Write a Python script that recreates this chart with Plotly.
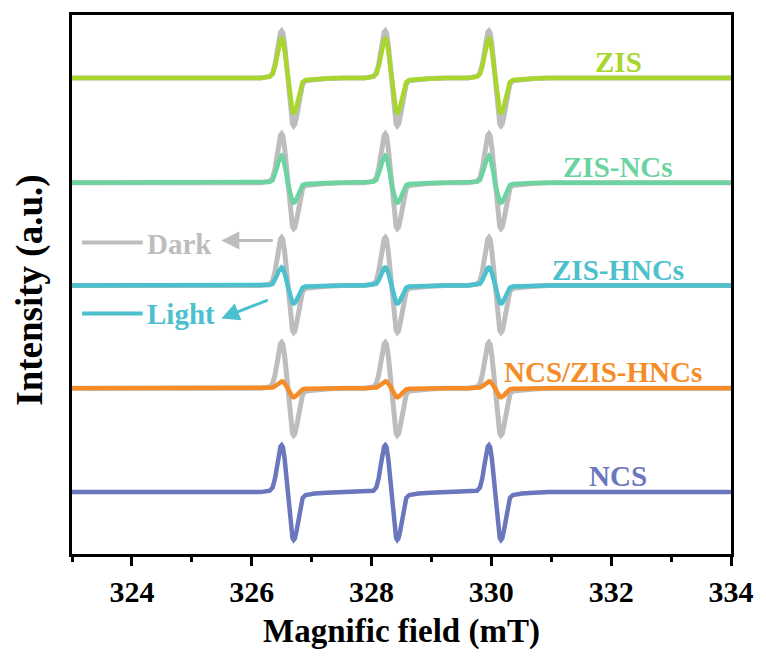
import plotly.graph_objects as go

# ---------------- data ----------------
samples = ["ZIS", "ZIS-NCs", "ZIS-HNCs", "NCS/ZIS-HNCs", "NCS"]
colors = ["#A8D62E", "#6CD3A1", "#4CC0CD", "#F58C28", "#6B77BD"]
baselines = [477, 372, 269, 166, 62]          # vertical offsets (a.u.)
light_pos = [39, 27, 18, 7, 47]               # light-curve positive lobe height
light_neg = [35, 20, 18, 9, 48]               # light-curve negative lobe depth
dark_pos = [47, 49, 48, 46]                   # dark-curve positive lobe height
dark_neg = [48, 46, 47, 47]                   # dark-curve negative lobe depth

line_centers = [326.60, 328.33, 330.06]       # mT, the three hyperfine lines
field_min, field_max = 323, 334

# normalized derivative line profile (offset in mT, value)
prof_off = [-0.45, -0.30, -0.25, -0.21, -0.18, -0.15, -0.12, -0.10, -0.08, -0.05,
            -0.025, 0.0, 0.025, 0.05, 0.08, 0.10, 0.12, 0.15, 0.18, 0.21, 0.25,
            0.30, 0.45, 0.65, 0.90]
prof_val = [0.0, 0.03, 0.10, 0.30, 0.55, 0.80, 0.97, 1.0, 0.96, 0.70,
            0.38, 0.0, -0.38, -0.70, -0.96, -1.0, -0.97, -0.80, -0.55, -0.30, -0.12,
            -0.06, -0.03, -0.015, 0.0]

x_ticks = [324, 326, 328, 330, 332, 334]
x_title = "Magnific field (mT)"
y_title = "Intensity (a.u.)"
gray = "#BDBDBD"
light_color = "#4CC0CD"


def spectrum(base, pos, neg):
    xs, ys = [field_min], [base]
    for c in line_centers:
        for o, v in zip(prof_off, prof_val):
            xs.append(c + o)
            ys.append(base + (v * pos if v >= 0 else v * neg))
    xs.append(field_max)
    ys.append(base)
    return xs, ys


fig = go.Figure()
FONT = "'Liberation Serif', 'Times New Roman', Times, serif"

for i in range(len(dark_pos)):
    xs, ys = spectrum(baselines[i], dark_pos[i], dark_neg[i])
    fig.add_trace(go.Scatter(x=xs, y=ys, mode="lines",
                             line=dict(color=gray, width=5),
                             hoverinfo="skip", showlegend=False))

for i, name in enumerate(samples):
    xs, ys = spectrum(baselines[i], light_pos[i], light_neg[i])
    fig.add_trace(go.Scatter(x=xs, y=ys, mode="lines", name=name,
                             line=dict(color=colors[i], width=4.5),
                             showlegend=False))
    fig.add_annotation(x=332.12 if name != "NCS/ZIS-HNCs" else 331.87,
                       y=baselines[i] + 16, text="<b>" + name + "</b>", showarrow=False,
                       xanchor="center", yanchor="middle",
                       font=dict(family=FONT, size=29, color=colors[i]))

# Dark / Light legend
def px_x(p):
    return (p - 72) / 662


def px_y(p):
    return (554 - p) / 540


fig.add_shape(type="line", xref="paper", yref="paper",
              x0=px_x(82), x1=px_x(143), y0=px_y(242), y1=px_y(242),
              line=dict(color=gray, width=4))
fig.add_shape(type="line", xref="paper", yref="paper",
              x0=px_x(82), x1=px_x(143), y0=px_y(313), y1=px_y(313),
              line=dict(color=light_color, width=4))
fig.add_annotation(xref="paper", yref="paper", x=px_x(145), y=px_y(243),
                   text="<b>Dark</b>", showarrow=False, xanchor="left", yanchor="middle",
                   font=dict(family=FONT, size=29, color=gray))
fig.add_annotation(xref="paper", yref="paper", x=px_x(145), y=px_y(314),
                   text="<b>Light</b>", showarrow=False, xanchor="left", yanchor="middle",
                   font=dict(family=FONT, size=29, color=light_color))
fig.add_annotation(xref="paper", yref="paper", x=px_x(222), y=px_y(240),
                   text="", showarrow=True, ax=53, ay=0, arrowhead=2,
                   arrowsize=1.2, arrowwidth=3, arrowcolor=gray)
fig.add_annotation(xref="paper", yref="paper", x=px_x(222), y=px_y(318),
                   text="", showarrow=True, ax=48, ay=-19, arrowhead=2,
                   arrowsize=1.2, arrowwidth=3, arrowcolor=light_color)

# y title
fig.add_annotation(xref="paper", yref="paper", x=px_x(30), y=px_y(290),
                   text="<b>" + y_title + "</b>", showarrow=False, textangle=-90,
                   xanchor="center", yanchor="middle",
                   font=dict(family=FONT, size=37, color="black"))

fig.update_layout(
    width=766, height=657,
    margin=dict(l=72, r=32, t=14, b=103),
    paper_bgcolor="white", plot_bgcolor="white",
    font=dict(family=FONT, color="black"),
    xaxis=dict(range=[field_min, field_max], tickvals=x_ticks,
               ticktext=["<b>%d</b>" % v for v in x_ticks],
               ticks="outside", ticklen=9, tickwidth=3, tickcolor="black",
               showline=True, linewidth=3, linecolor="black", mirror=True,
               showgrid=False, zeroline=False,
               minor=dict(ticks="outside", dtick=1, tick0=323, ticklen=5,
                          tickwidth=3, tickcolor="black", showgrid=False),
               tickfont=dict(family=FONT, size=30, color="black"),
               title=dict(text="<b>" + x_title + "</b>", standoff=12,
                          font=dict(family=FONT, size=33, color="black"))),
    yaxis=dict(range=[0, 540], showticklabels=False, ticks="",
               showline=True, linewidth=3, linecolor="black", mirror=True,
               showgrid=False, zeroline=False),
)

fig.write_html("out.html")
